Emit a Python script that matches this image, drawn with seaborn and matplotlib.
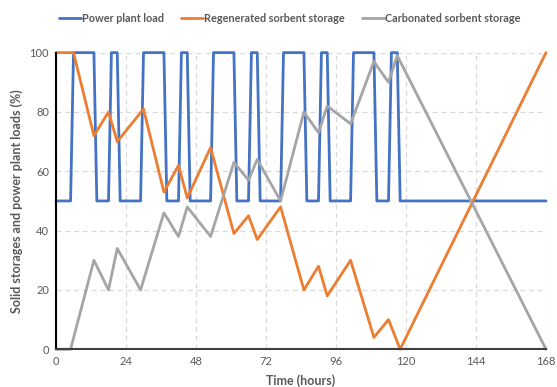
import matplotlib
matplotlib.use("Agg")
import matplotlib.pyplot as plt
import seaborn as sns
import pandas as pd

# --- data ---
load_t = [0, 5, 6, 13, 14, 18, 19, 21, 22, 29, 30, 37, 38, 42, 43, 45, 46, 53, 54, 61, 62,
          66, 67, 69, 70, 77, 78, 85, 86, 90, 91, 93, 94, 101, 102, 109, 110, 114, 115, 117, 118, 168]
load_v = [50, 50, 100, 100, 50, 50, 100, 100, 50, 50, 100, 100, 50, 50, 100, 100, 50, 50, 100, 100, 50,
          50, 100, 100, 50, 50, 100, 100, 50, 50, 100, 100, 50, 50, 100, 100, 50, 50, 100, 100, 50, 50]

regen_t = [0, 6, 13, 18, 21, 30, 37, 42, 45, 53, 61, 66, 69, 77, 85, 90, 93, 101, 109, 114, 118, 168]
regen_v = [100, 100, 72, 80, 70, 81, 53, 62, 51, 68, 39, 45, 37, 48, 20, 28, 18, 30, 4, 10, 0, 100]

carb_t = [0, 5, 13, 18, 21, 29, 37, 42, 45, 53, 61, 66, 69, 77, 85, 90, 93, 101, 109, 114, 117, 168]
carb_v = [0, 0, 30, 20, 34, 20, 46, 38, 48, 38, 63, 57, 64, 50, 80, 73, 82, 76, 97, 90, 99, 0]

series_names = ["Power plant load", "Regenerated sorbent storage", "Carbonated sorbent storage"]
x_ticks = [0, 24, 48, 72, 96, 120, 144, 168]
y_ticks = [0, 20, 40, 60, 80, 100]

df = pd.concat([
    pd.DataFrame({"t": load_t, "v": load_v, "s": series_names[0]}),
    pd.DataFrame({"t": regen_t, "v": regen_v, "s": series_names[1]}),
    pd.DataFrame({"t": carb_t, "v": carb_v, "s": series_names[2]}),
], ignore_index=True)

sns.set_style("white")
plt.rcParams["font.family"] = ["Lato", "DejaVu Sans"]

fig = plt.figure(figsize=(5.57, 3.87), dpi=100)
ax = fig.add_axes([56 / 557, 0.0975, (546 - 56) / 557, 0.7665])

palette = {series_names[0]: "#4472C4", series_names[1]: "#ED7D31", series_names[2]: "#A5A5A5"}
sns.lineplot(data=df, x="t", y="v", hue="s", units="s", estimator=None, sort=False,
             palette=palette, linewidth=2.0, ax=ax, legend=True)
for ln in ax.get_lines():
    ln.set_clip_on(False)

ax.set_xlim(0, 168)
ax.set_ylim(0, 100)
ax.set_xticks(x_ticks)
ax.set_yticks(y_ticks)
ax.grid(True, color="#D9D9D9", linestyle=(0, (4, 3)), linewidth=0.9)
ax.set_axisbelow(True)
for s in ["top", "right"]:
    ax.spines[s].set_visible(False)
ax.spines["left"].set_color("#000000")
ax.spines["left"].set_linewidth(1.5)
ax.spines["bottom"].set_color("#404040")
ax.spines["bottom"].set_linewidth(1.5)
ax.tick_params(axis="both", length=0, labelsize=8, labelcolor="#595959", pad=5)
ax.set_xlabel("Time (hours)", fontsize=9, fontweight="bold", color="#595959", labelpad=5)
ax.set_ylabel("Solid storages and power plant loads (%)", fontsize=9, fontweight="bold",
              color="#595959", labelpad=5)

handles, labels = ax.get_legend_handles_labels()
leg = ax.legend(handles, labels, loc="center", ncol=3, frameon=False, fontsize=7.8,
                handlelength=2.0, handletextpad=0.1, columnspacing=1.6, borderaxespad=0)
leg.set_bbox_to_anchor((0.52, 1 - 18 / 387), transform=fig.transFigure)
for t in leg.get_texts():
    t.set_color("#595959")
    t.set_fontweight("bold")

fig.savefig("out.png", dpi=100)
